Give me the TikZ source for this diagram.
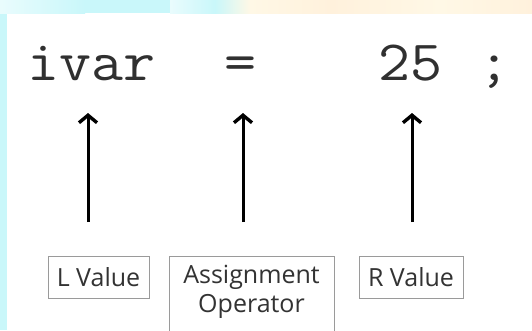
\documentclass[tikz,border=0pt]{standalone}
\usepackage{fontspec}
\setmainfont{Open Sans}
\usetikzlibrary{arrows.meta}
\definecolor{bgcyan}{HTML}{C9F7FA}
\definecolor{bgorange}{HTML}{FFF1DC}
\definecolor{bgyellow}{HTML}{FFF8E6}
\definecolor{boxline}{HTML}{9A9A9A}
\definecolor{labeltext}{HTML}{333333}
\definecolor{codetext}{HTML}{303030}
\tikzset{
  code/.style={font=\ttfamily\fontsize{57}{57}\selectfont, text=codetext, inner sep=0pt, xscale=1.09},
  label box/.style={draw=boxline, line width=0.9pt, font=\fontsize{25}{29}\selectfont, text=labeltext, inner sep=0pt, align=center},
  pointer/.style={line width=3pt, -{Straight Barb[length=7.5pt,width=18pt,line width=3.4pt]}},
}
\begin{document}
\begin{tikzpicture}[x=1pt,y=-1pt]
\useasboundingbox (0,0) rectangle (532,330);
\clip (0,0) rectangle (532,330);
% background
\fill[white] (0,0) rectangle (532,330);
\fill[bgcyan] (0,0) rectangle (7,330);
\shade[left color=bgcyan!40, right color=bgcyan] (0,0) rectangle (85,13);
\fill[bgcyan] (85,0) rectangle (170,13);
\shade[left color=bgcyan!40, right color=bgcyan] (170,0) rectangle (215,13);
\shade[left color=bgcyan, right color=bgyellow] (215,0) rectangle (250,13);
\shade[left color=bgyellow, right color=bgorange] (250,0) rectangle (330,13);
\shade[left color=bgorange, right color=bgyellow] (330,0) rectangle (440,13);
\shade[left color=bgyellow, right color=bgorange] (440,0) rectangle (532,13);
% code line
\node[code, anchor=base west] (lv) at (27,80) {ivar};
\node[code, anchor=base] (op) at (240,80) {=};
\node[code, anchor=base west] (rv) at (378,80) {25};
\node[code, anchor=base] (semi) at (494,80) {;};
% label boxes
\node[label box, minimum width=101pt, minimum height=42pt] (lbox) at (98.5,277) {L Value};
\node[label box, minimum width=165pt, minimum height=80pt, anchor=north] (abox) at (251.5,256) {};
\node[font=\fontsize{25}{29}\selectfont, text=labeltext, align=center, inner sep=0pt, anchor=north] (atext) at (abox.north) [yshift=-9pt] {Assignment\\Operator};
\node[label box, minimum width=104pt, minimum height=42pt] (rbox) at (411,277) {R Value};
% arrow anchors
\coordinate (l0) at (88,222);  \coordinate (l1) at (88,113);
\coordinate (a0) at (243,222); \coordinate (a1) at (243,113);
\coordinate (r0) at (412,222); \coordinate (r1) at (412,113);
\draw[pointer] (l0) -- (l1);
\draw[pointer] (a0) -- (a1);
\draw[pointer] (r0) -- (r1);
\end{tikzpicture}
\end{document}
